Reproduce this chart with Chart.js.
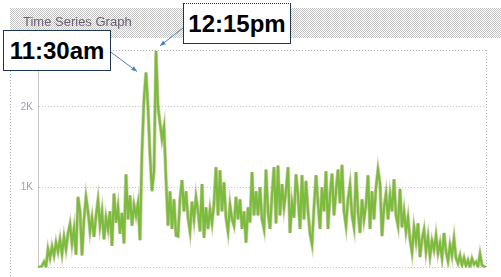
<!DOCTYPE html>
<html>
<head>
<meta charset="utf-8">
<script src="https://cdn.jsdelivr.net/npm/chart.js@4/dist/chart.umd.min.js"></script>
<style>
  html, body { margin: 0; padding: 0; background: #fff; }
  #wrap { position: relative; width: 501px; height: 277px; overflow: hidden; }
  #chart { position: absolute; left: 0; top: 0; }
  .title { position: absolute; left: 23px; top: 14px; font: 13px "Liberation Sans", Arial, sans-serif; color: #6d5d7b; }
  .callout {
    position: absolute; box-sizing: border-box; background: #fff;
    border: 1.5px solid #1d3653;
    font: bold 24px "Liberation Sans", Arial, sans-serif; letter-spacing: 0; color: #000;
    display: flex; align-items: center; justify-content: center;
  }
  #call1130 { left: 3px; top: 30px; width: 108px; height: 41px; }
  #call1215 { left: 183px; top: 3px; width: 108px; height: 41px; border-top-style: dotted; }
</style>
</head>
<body>
<div id="wrap">
  <canvas id="chart" width="501" height="277"></canvas>
  <div class="title">Time Series Graph</div>
  <div class="callout" id="call1130">11:30am</div>
  <div class="callout" id="call1215">12:15pm</div>
</div>
<script>
// Traffic, one sample every ~2px across the plot
const traffic = [
  10, 0, 20, 70, 10, 230, 120, 260, 150, 310,
  200, 350, 170, 380, 230, 420, 540, 300, 480, 160,
  880, 700, 150, 600, 880, 700, 450, 620, 380, 640,
  840, 520, 700, 350, 620, 480, 700, 270, 920, 560,
  750, 420, 680, 300, 1160, 600, 900, 520, 780, 650,
  800, 340, 1450, 2100, 2430, 2000, 1400, 950, 1200, 2700,
  2000, 1800, 1600, 1750, 1100, 520, 950, 480, 850, 400,
  390, 850, 1090, 700, 950, 620, 450, 820, 600, 880,
  700, 450, 1040, 370, 750, 480, 720, 550, 800, 1250,
  650, 1210, 700, 1060, 620, 450, 780, 600, 520, 880,
  600, 850, 480, 700, 310, 750, 560, 1190, 650, 950,
  650, 1000, 600, 480, 1220, 700, 480, 900, 1250, 550,
  1270, 650, 1040, 750, 950, 1250, 430, 800, 620, 1160,
  900, 480, 1150, 600, 1080, 700, 420, 290, 750, 1150,
  800, 480, 1000, 700, 1200, 480, 900, 1170, 650, 950,
  1220, 800, 1280, 700, 520, 850, 1030, 650, 500, 1190,
  700, 430, 850, 600, 780, 1150, 480, 950, 600, 1000,
  1220, 1050, 390, 750, 920, 600, 900, 700, 1100, 650,
  520, 980, 500, 700, 450, 620, 350, 190, 500, 330,
  550, 130, 350, 470, 200, 380, 140, 330, 220, 400,
  180, 300, 120, 430, 200, 80, 280, 150, 360, 120,
  50, 150, 30, 120, 20, 90, 10, 110, 40, 70,
  10, 170, 30, 10, 0
];
const samples = traffic.map((_, i) => i);

const yTicks = [0, 1000, 2000];
const yTickLabels = ['', '1K', '2K'];
const yMax = 2710;

// callouts: which sample each arrow points at
const calloutIndex = [54, 59];

function bandPattern(ctx) {
  const p = document.createElement('canvas');
  p.width = 2; p.height = 2;
  const pc = p.getContext('2d');
  pc.fillStyle = '#ffffff';
  pc.fillRect(0, 0, 2, 2);
  pc.fillStyle = '#c4c4c4';
  pc.fillRect(0, 0, 1, 1);
  pc.fillRect(1, 1, 1, 1);
  return ctx.createPattern(p, 'repeat');
}

function arrow(ctx, x1, y1, x2, y2) {
  const a = Math.atan2(y2 - y1, x2 - x1);
  ctx.beginPath();
  ctx.moveTo(x1, y1);
  ctx.lineTo(x2, y2);
  ctx.stroke();
  ctx.beginPath();
  ctx.moveTo(x2, y2);
  ctx.lineTo(x2 - 6 * Math.cos(a - 0.4), y2 - 6 * Math.sin(a - 0.4));
  ctx.lineTo(x2 - 6 * Math.cos(a + 0.4), y2 - 6 * Math.sin(a + 0.4));
  ctx.closePath();
  ctx.fill();
}

const frame = {
  id: 'frame',
  beforeDraw(chart) {
    const ctx = chart.ctx;
    const { left, right, top, bottom } = chart.chartArea;
    ctx.save();
    // grey header band
    ctx.fillStyle = bandPattern(ctx);
    ctx.fillRect(10, 8, chart.width - 10, 30);
    // dotted outer frame
    ctx.strokeStyle = '#b5b5b5';
    ctx.lineWidth = 1;
    ctx.setLineDash([1, 2]);
    ctx.beginPath();
    ctx.moveTo(10.5, 38); ctx.lineTo(10.5, chart.height);
    ctx.moveTo(left, top + 0.5); ctx.lineTo(right, top + 0.5);
    ctx.moveTo(right + 0.5, top); ctx.lineTo(right + 0.5, bottom);
    ctx.stroke();
    ctx.restore();
  },
  afterDatasetsDraw(chart) {
    const ctx = chart.ctx;
    const pts = chart.getDatasetMeta(0).data;
    const p1 = pts[calloutIndex[0]];
    const p2 = pts[calloutIndex[1]];
    ctx.save();
    ctx.strokeStyle = '#4f81bd';
    ctx.fillStyle = '#4f81bd';
    ctx.lineWidth = 1;
    arrow(ctx, 108, 50, p1.x - 9, p1.y - 1);
    arrow(ctx, 183, 28, p2.x + 4, p2.y - 5);
    ctx.restore();
  }
};

new Chart(document.getElementById('chart'), {
  type: 'line',
  data: {
    labels: samples,
    datasets: [{
      data: traffic,
      borderColor: '#7cbc3c',
      borderWidth: 2.2,
      pointRadius: 0,
      tension: 0,
      fill: false,
      order: 0
    }, {
      // olive halo under the green trace
      data: traffic,
      borderColor: 'rgba(150, 150, 80, 0.45)',
      borderWidth: 3.6,
      pointRadius: 0,
      tension: 0,
      fill: false,
      order: 1
    }]
  },
  options: {
    responsive: false,
    animation: false,
    layout: { padding: { left: 0, right: 15, top: 50, bottom: 5 } },
    plugins: { legend: { display: false }, tooltip: { enabled: false } },
    scales: {
      x: { display: false, offset: false },
      y: {
        min: 0,
        max: yMax,
        afterFit(scale) { scale.width = 38; },
        afterBuildTicks(scale) { scale.ticks = yTicks.map(v => ({ value: v })); },
        grid: { color: '#c4c4c4', lineWidth: 1, drawTicks: false },
        border: { display: true, color: '#c8c8c8', dash: [1, 2] },
        ticks: {
          padding: 5,
          color: '#a596c2',
          font: { family: '"Liberation Sans", Arial, sans-serif', size: 10, lineHeight: 0.9 },
          callback: (v, i) => yTickLabels[i]
        }
      }
    }
  },
  plugins: [frame]
});
</script>
</body>
</html>
